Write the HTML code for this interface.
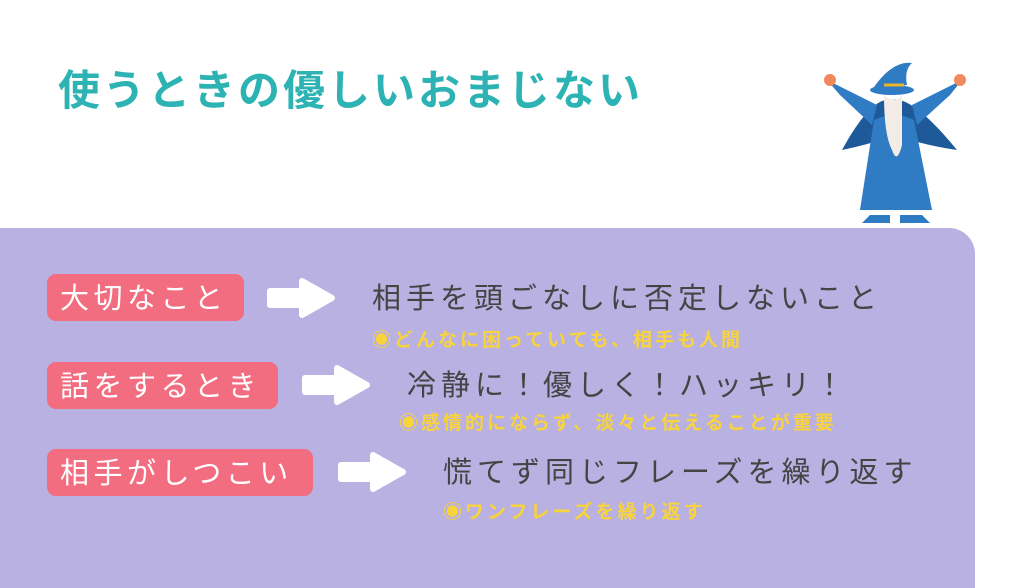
<!DOCTYPE html>
<html><head><meta charset="utf-8"><style>
body{margin:0;width:1024px;height:576px;background:#fff;position:relative;overflow:hidden;font-family:"Liberation Sans","Noto Sans CJK JP",sans-serif}
.t{position:absolute;left:58px;top:57px;font-size:42px;font-weight:bold;color:#2db3b3;letter-spacing:3px;white-space:nowrap}
.panel{position:absolute;left:0;top:228px;width:975px;height:360px;background:#b8b1e1;border-radius:0 26px 0 0}
.pill{position:absolute;left:47px;height:47px;background:#f26d80;border-radius:9px;color:#fff;font-size:29px;line-height:50px;padding-left:13px;box-sizing:border-box;white-space:nowrap;letter-spacing:4.5px}
.m{position:absolute;font-size:29px;color:#444;white-space:nowrap;line-height:34px;letter-spacing:5px}
.s{position:absolute;font-size:19px;font-weight:bold;color:#f8d33c;white-space:nowrap;line-height:22px;letter-spacing:3px}
svg.a{position:absolute;width:72px;height:42px}
</style></head><body>
<div class="t">使うときの優しいおまじない</div>
<svg style="position:absolute;left:822px;top:55px" width="150" height="175" viewBox="0 0 150 175">
<path d="M50 35 Q70 5 90 8 Q82 15 85 30Z" fill="#2f7bc4"/>
<ellipse cx="70" cy="35" rx="22" ry="5" fill="#2f7bc4"/>
<path d="M62 30h20" stroke="#e8b52c" stroke-width="3"/>
<path d="M20 95 Q50 40 70 45 Q90 40 135 95 Q100 90 75 80 Q45 90 20 95Z" fill="#1e5a9a"/>
<path d="M5 25 L55 50 L50 70 L18 40Z" fill="#2f7bc4"/>
<path d="M140 25 L90 50 L95 70 L128 40Z" fill="#2f7bc4"/>
<circle cx="8" cy="25" r="6" fill="#f08a5d"/><circle cx="138" cy="25" r="6" fill="#f08a5d"/>
<path d="M52 65 Q72 55 92 65 L110 155 L38 155Z" fill="#2f7bc4"/>
<path d="M62 40 Q72 50 80 40 L80 90 Q75 110 70 95 Q62 80 62 40Z" fill="#f3ece6"/>
<path d="M48 160h20v8H40Z M78 160h22l8 8H78Z" fill="#2f7bc4"/>
</svg>
<div class="panel"></div>
<div class="pill" style="top:274px;width:197px">大切なこと</div>
<div class="pill" style="top:362px;width:231px">話をするとき</div>
<div class="pill" style="top:449px;width:266px">相手がしつこい</div>
<svg class="a" style="left:264px;top:277px" viewBox="0 0 72 42"><path d="M6 14 H38 V4 L68 21 L38 38 V28 H6Z" fill="#fff" stroke="#fff" stroke-width="6" stroke-linejoin="round"/></svg>
<svg class="a" style="left:299px;top:364px" viewBox="0 0 72 42"><path d="M6 14 H38 V4 L68 21 L38 38 V28 H6Z" fill="#fff" stroke="#fff" stroke-width="6" stroke-linejoin="round"/></svg>
<svg class="a" style="left:335px;top:451px" viewBox="0 0 72 42"><path d="M6 14 H38 V4 L68 21 L38 38 V28 H6Z" fill="#fff" stroke="#fff" stroke-width="6" stroke-linejoin="round"/></svg>
<div class="m" style="left:372px;top:282px">相手を頭ごなしに否定しないこと</div>
<div class="s" style="left:372px;top:330px">◉どんなに困っていても、相手も人間</div>
<div class="m" style="left:407px;top:369px">冷静に！優しく！ハッキリ！</div>
<div class="s" style="left:399px;top:413px">◉感情的にならず、淡々と伝えることが重要</div>
<div class="m" style="left:443px;top:456px">慌てず同じフレーズを繰り返す</div>
<div class="s" style="left:443px;top:502px">◉ワンフレーズを繰り返す</div>
</body></html>
